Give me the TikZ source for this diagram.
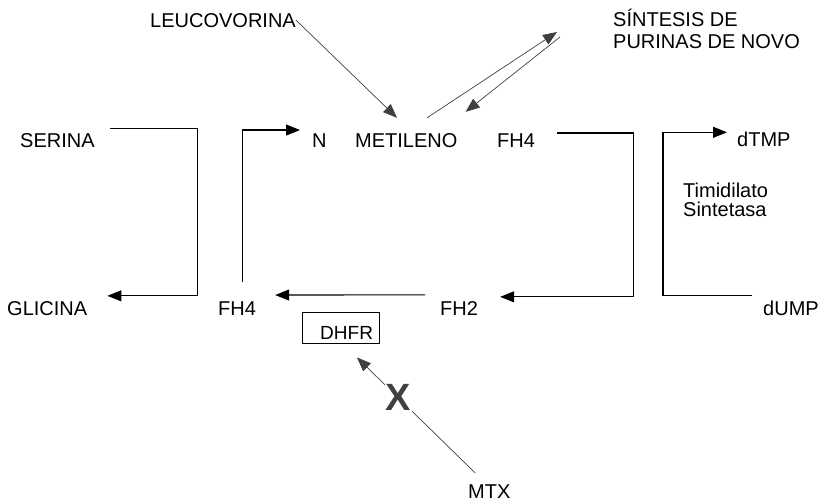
\documentclass[tikz,border=0pt]{standalone}
\usepackage{fontspec}
\setmainfont{Liberation Sans}
\usetikzlibrary{positioning,arrows.meta}

\begin{document}
\begin{tikzpicture}[x=1pt, y=-1pt,
  lbl/.style={inner sep=0pt, anchor=base west, font=\fontsize{20}{22}\selectfont},
  flow/.style={->, line width=1.1pt},
  slim/.style={->, line width=0.7pt, black!75},
  >={Triangle[length=14pt, width=11pt]}]
\useasboundingbox (0,0) rectangle (823,501);
\foreach \nm/\x/\y/\txt in {leuco/150/27/LEUCOVORINA, serina/20/147/SERINA, nn/312/147/N,
  metil/355/147/METILENO, fhtop/497/147/FH4, dtmp/737/146/dTMP, glic/7/315/GLICINA,
  fhbot/218/315/FH4, fhdos/440/315/FH2, dump/763/315/dUMP, mtx/468/498/MTX}
  \node[lbl] (\nm) at (\x,\y) {\txt};
\node[lbl, align=left] (sint) at (613,48) {SÍNTESIS DE\\PURINAS DE NOVO};
\node[lbl, align=left, font=\fontsize{20}{19}\selectfont] (timid) at (683,216) {Timidilato\\Sintetasa};
\node[draw, line width=0.9pt, inner xsep=6pt, inner ysep=4pt, text width=65pt, align=right,
  text height=23pt, text depth=0pt, font=\fontsize{19}{22}\selectfont] (dhfr) at (340.5,327.5) {DHFR};
% cofactores
\draw[slim] (leuco.east) -- ([shift={(42,-15)}]metil.north west);
\draw[slim] ([shift={(72,-15)}]metil.north west) -- ([shift={(-56,-16)}]sint.base west);
\draw[slim] ([shift={(-53,-11)}]sint.base west) -- ([shift={(8,-21)}]metil.north east);
% ciclo del folato
\draw[flow] ([shift={(15,-4)}]serina.north east) -- ++(87.5,0) |- ([shift={(20,-5)}]glic.north east);
\draw[flow] ([shift={(5,-19)}]fhbot.north) |- ([shift={(-12,-3)}]nn.north west);
\draw[flow] ([shift={(22,0)}]fhtop.north east) -- ++(76,0) |- ([shift={(22,-4)}]fhdos.north east);
\draw[flow] ([shift={(-15,-6)}]fhdos.north west) -- ([shift={(19,-6)}]fhbot.north east);
\draw[flow] ([shift={(-11,-5)}]dump.north west) -- ++(-89,0) |- ([shift={(-10,1)}]dtmp.north west);
% bloqueo
\draw[slim] ([shift={(-14,-11)}]mtx.north) -- node[pos=0.65, fill=white, inner sep=1pt,
  font=\fontsize{38}{40}\selectfont\bfseries] (bloq) {X} ([shift={(16.5,14)}]dhfr.south);
\end{tikzpicture}
\end{document}
